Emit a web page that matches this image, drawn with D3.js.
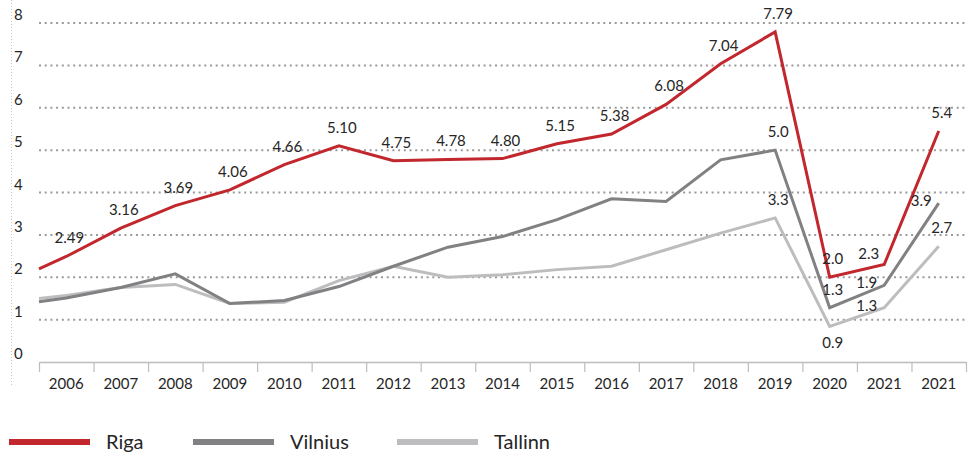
<!DOCTYPE html>
<html>
<head>
<meta charset="utf-8">
<script src="https://cdn.jsdelivr.net/npm/d3@7"></script>
<style>
  body { margin: 0; background: #fff; }
  text { font-family: Lato, "Open Sans", sans-serif; fill: #262626; }
</style>
</head>
<body>
<svg id="chart" width="972" height="456"></svg>
<script>
// categories (last year appears twice in the source)
const years = ["2006","2007","2008","2009","2010","2011","2012","2013","2014","2015",
               "2016","2017","2018","2019","2020","2021","2021"];
const yTicks = [0,1,2,3,4,5,6,7,8];

// value where each line enters at the left edge
const rigaStart = 2.2;
const vilniusStart = 1.42;
const tallinnStart = 1.5;

// series values
const riga = [2.49,3.16,3.69,4.06,4.66,5.10,4.75,4.78,4.80,5.15,5.38,6.08,7.04,7.79,2.0,2.3,5.45];
const vilnius = [1.51,1.76,2.08,1.38,1.45,1.78,2.26,2.71,2.96,3.36,3.85,3.79,4.77,5.0,1.28,1.81,3.75];
const tallinn = [1.57,1.76,1.83,1.38,1.41,1.92,2.26,2.0,2.06,2.18,2.26,2.65,3.04,3.4,0.84,1.28,2.73];

// printed value labels (null = no label)
const rigaLabels = ["2.49","3.16","3.69","4.06","4.66","5.10","4.75","4.78","4.80","5.15",
                    "5.38","6.08","7.04","7.79","2.0","2.3","5.4"];
const vilniusLabels = [null,null,null,null,null,null,null,null,null,null,null,null,null,"5.0","1.3","1.9","3.9"];
const tallinnLabels = [null,null,null,null,null,null,null,null,null,null,null,null,null,"3.3","0.9","1.3","2.7"];

const seriesNames = ["Riga","Vilnius","Tallinn"];

//////////////////////////
// setup
//////////////////////////
let svg = d3.select("#chart");
let plotLeft = 39, plotRight = 966, plotTop = 23, plotBottom = 362;

let colorScale = d3.scaleOrdinal()
  .domain(seriesNames)
  .range(["#c1272d","#818184","#bdbdbf"]);

// which side of the point a label goes (anything not listed: above)
let labelSide = {
  "Riga-15": "upleft",
  "Vilnius-15": "left",
  "Vilnius-16": "left",
  "Tallinn-14": "down",
  "Tallinn-15": "left"
};

// index based x so the duplicate "2021" stays its own slot
let xScale = d3.scaleLinear()
  .domain([-0.5, years.length - 0.5])
  .range([plotLeft, plotRight]);

let yScale = d3.scaleLinear()
  .domain([0, 8])
  .range([plotBottom, plotTop]);

//left dotted rule
svg.append("line")
  .attr("x1", 11.5).attr("x2", 11.5)
  .attr("y1", 0).attr("y2", 385)
  .attr("stroke", "#c8c8c8")
  .attr("stroke-dasharray", "1,2");

//gridlines
svg.append("g")
  .selectAll("line")
  .data(yTicks.filter(d => d > 0))
  .enter()
  .append("line")
  .attr("x1", plotLeft)
  .attr("x2", plotRight)
  .attr("y1", d => yScale(d))
  .attr("y2", d => yScale(d))
  .attr("stroke", "#9a9a9a")
  .attr("stroke-width", 2)
  .attr("stroke-dasharray", "2,3.7");

//y labels sit above their gridline
svg.append("g")
  .selectAll("text")
  .data(yTicks)
  .enter()
  .append("text")
  .attr("x", 14)
  .attr("y", d => yScale(d) - 3)
  .attr("font-size", 15)
  .text(d => d);

//x axis: tick marks at the slot edges
let xAxis = d3.axisBottom(xScale)
  .tickValues(d3.range(-0.5, years.length, 1))
  .tickSize(10)
  .tickSizeOuter(0)
  .tickFormat("");

let axisG = svg.append("g")
  .attr("transform", `translate(0,${plotBottom})`)
  .call(xAxis);
axisG.select(".domain").attr("stroke", "#bdbdbd").attr("stroke-width", 1.5);
axisG.selectAll(".tick line").attr("stroke", "#bdbdbd").attr("stroke-width", 1.2);

svg.append("g")
  .selectAll("text")
  .data(years)
  .enter()
  .append("text")
  .attr("x", (d, i) => xScale(i))
  .attr("y", 389)
  .attr("text-anchor", "middle")
  .attr("font-size", 15)
  .text(d => d);

//////////////////////////
// lines
//////////////////////////
let series = [
  {name: "Tallinn", start: tallinnStart, values: tallinn, labels: tallinnLabels},
  {name: "Vilnius", start: vilniusStart, values: vilnius, labels: vilniusLabels},
  {name: "Riga", start: rigaStart, values: riga, labels: rigaLabels}
];

let line = d3.line()
  .x(d => xScale(d.i))
  .y(d => yScale(d.v));

series.forEach(s => {
  let pts = [{i: -0.5, v: s.start}].concat(s.values.map((v, i) => ({i: i, v: v})));
  svg.append("path")
    .datum(pts)
    .attr("fill", "none")
    .attr("stroke", colorScale(s.name))
    .attr("stroke-width", 3)
    .attr("stroke-linejoin", "miter")
    .attr("d", line);
});

//value labels
series.forEach(s => {
  let side = i => labelSide[s.name + "-" + i] || "up";
  svg.append("g")
    .selectAll("text")
    .data(s.values.map((v, i) => ({i: i, v: v, t: s.labels[i]})).filter(d => d.t !== null))
    .enter()
    .append("text")
    .attr("x", d => {
      let sd = side(d.i);
      if (sd === "left") return xScale(d.i) - 7;
      if (sd === "upleft") return xScale(d.i) - 5;
      return xScale(d.i) + 3;
    })
    .attr("y", d => {
      let sd = side(d.i);
      if (sd === "down") return yScale(d.v) + 22;
      if (sd === "left") return yScale(d.v) + 3;
      if (sd === "upleft") return yScale(d.v) - 6;
      return yScale(d.v) - 13;
    })
    .attr("text-anchor", d => (side(d.i) === "left" || side(d.i) === "upleft") ? "end" : "middle")
    .attr("font-size", 15)
    .text(d => d.t);
});

//////////////////////////
// legend
//////////////////////////
let legendX = [9, 193, 397];
let legend = svg.append("g")
  .selectAll("g")
  .data(seriesNames)
  .enter()
  .append("g")
  .attr("transform", (d, i) => `translate(${legendX[i]},442)`);

legend.append("line")
  .attr("x1", 0).attr("x2", 81)
  .attr("y1", 0).attr("y2", 0)
  .attr("stroke", d => colorScale(d))
  .attr("stroke-width", 6);

legend.append("text")
  .attr("x", 97)
  .attr("y", 7)
  .attr("font-size", 20)
  .text(d => d);
</script>
</body>
</html>
